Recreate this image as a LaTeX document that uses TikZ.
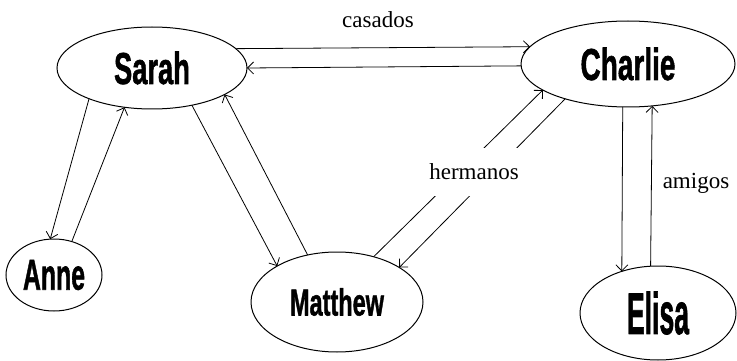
\documentclass[tikz,border=0pt]{standalone}
\usepackage{fontspec}
\setmainfont{Liberation Serif}
\newfontfamily\nmfont[FakeBold=1.5]{Liberation Sans Bold}
\usetikzlibrary{shapes.geometric,arrows.meta}
\newcommand\nmtext[3]{\scalebox{#1}[#2]{\nmfont\fontsize{10}{12}\selectfont #3}}
\begin{document}
\begin{tikzpicture}[x=1pt,y=-1pt,
  person/.style={ellipse,draw,line width=1pt,inner sep=0pt,outer sep=0pt},
  arr/.style={-{Straight Barb[length=6pt,width=12pt]},line width=0.8pt},
  lbl/.style={font=\fontsize{23}{25}\selectfont,inner sep=0pt}]
\useasboundingbox (0,0) rectangle (737,361);
\node[person,minimum width=190pt,minimum height=82pt] (Sarah) at (152,68) {\nmtext{2.73}{4.47}{Sarah}};
\node[person,minimum width=214pt,minimum height=86pt] (Charlie) at (628,64) {\nmtext{2.8}{4.47}{Charlie}};
\node[person,minimum width=96pt,minimum height=72pt] (Anne) at (54,275) {\nmtext{2.48}{4.33}{Anne}};
\node[person,minimum width=172pt,minimum height=100pt] (Matthew) at (337,302) {\nmtext{2.35}{3.77}{Matthew}};
\node[person,minimum width=156pt,minimum height=94pt] (Elisa) at (658,313) {\nmtext{2.66}{5.87}{Elisa}};
\draw[arr] (Sarah.13.9) -- (Charlie.170.7);
\draw[arr] (Charlie.181.6) -- (Sarah.0);
\draw[arr] (Sarah.-154.2) -- (Anne.96.2);
\draw[arr] (Anne.62.8) -- (Sarah.-125.9);
\draw[arr] (Sarah.-43.5) -- (Matthew.149.2);
\draw[arr] (Matthew.122) -- (Sarah.-20.8);
\draw[arr] (Matthew.51.3) -- (Charlie.-163.5);
\draw[arr] (Charlie.-151) -- (Matthew.29.1);
\draw[arr] (Charlie.-97.9) -- (Elisa.131.3);
\draw[arr] (Elisa.99.7) -- (Charlie.-60.3);
\node[lbl] (casados) at (378,20) {casados};
\node[lbl,fill=white,minimum height=48pt,inner xsep=1pt] (hermanos) at (474,172) {hermanos};
\node[lbl] (amigos) at (696,183) {amigos};
\end{tikzpicture}
\end{document}
